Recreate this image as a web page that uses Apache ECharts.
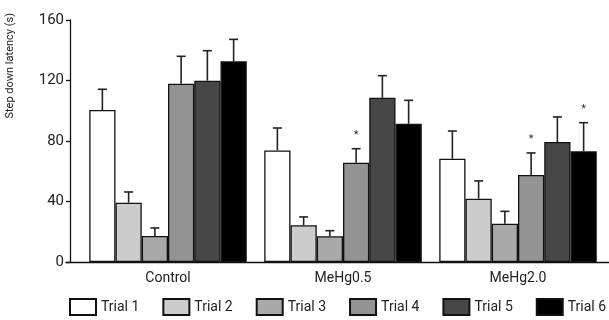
<!DOCTYPE html>
<html>
<head>
<meta charset="utf-8">
<script src="https://cdn.jsdelivr.net/npm/echarts@6/dist/echarts.min.js"></script>
<style>html,body{margin:0;padding:0;background:#fff;}#c{width:609px;height:320px;}</style>
</head>
<body>
<div id="c"></div>
<script>
var categories = ['Control', 'MeHg0.5', 'MeHg2.0'];
var trialNames = ['Trial 1', 'Trial 2', 'Trial 3', 'Trial 4', 'Trial 5', 'Trial 6'];
var trial1 = [100.5, 73.8, 68.3];
var trial2 = [39.2, 24.3, 41.9];
var trial3 = [17.2, 17.0, 25.3];
var trial4 = [117.9, 65.7, 57.5];
var trial5 = [119.9, 108.6, 79.3];
var trial6 = [132.7, 91.4, 73.2];
// error bar lengths (SEM)
var err1 = [13.7, 14.8, 18.3];
var err2 = [7.1, 5.5, 11.7];
var err3 = [5.3, 3.7, 8.2];
var err4 = [18.1, 9.2, 14.6];
var err5 = [19.8, 14.6, 16.6];
var err6 = [14.5, 15.5, 18.9];
// significance markers (1 = asterisk)
var sig1 = [0, 0, 0];
var sig2 = [0, 0, 0];
var sig3 = [0, 0, 0];
var sig4 = [0, 1, 1];
var sig5 = [0, 0, 0];
var sig6 = [0, 0, 1];
var yTicks = [0, 40, 80, 120, 160];

var means = [trial1, trial2, trial3, trial4, trial5, trial6];
var errs = [err1, err2, err3, err4, err5, err6];
var sigs = [sig1, sig2, sig3, sig4, sig5, sig6];
var colors = ['#ffffff', '#cccccc', '#a9a9a9', '#939393', '#474747', '#000000'];
var FONT = "Roboto, 'Liberation Sans', sans-serif";

var errData = [];
for (var s = 0; s < 6; s++) {
  for (var c = 0; c < categories.length; c++) {
    errData.push([c, means[s][c], errs[s][c], s, sigs[s][c]]);
  }
}

var series = [];
for (var s2 = 0; s2 < 6; s2++) {
  series.push({
    name: trialNames[s2],
    type: 'bar',
    data: means[s2],
    barGap: '0%',
    barCategoryGap: '10%',
    itemStyle: { color: colors[s2], borderColor: '#111', borderWidth: 1.3 },
    z: 2
  });
}
series.push({
  type: 'custom',
  data: errData,
  z: 3,
  silent: true,
  renderItem: function (params, api) {
    var cat = api.value(0), m = api.value(1), e = api.value(2), si = api.value(3), sg = api.value(4);
    var bw = api.size([1, 0])[0] * 0.9 / 6;
    var base = api.coord([cat, m]);
    var top = api.coord([cat, m + e]);
    var x = base[0] + (si - 2.5) * bw;
    var cap = 4.5;
    var children = [
      { type: 'line', shape: { x1: x, y1: base[1], x2: x, y2: top[1] }, style: { stroke: '#222', lineWidth: 1.6 } },
      { type: 'line', shape: { x1: x - cap, y1: top[1], x2: x + cap, y2: top[1] }, style: { stroke: '#222', lineWidth: 1.6 } }
    ];
    if (sg) {
      children.push({ type: 'text', style: { text: '*', x: x, y: top[1] - 8, align: 'center', verticalAlign: 'bottom', fill: '#333', font: '11px ' + FONT } });
    }
    return { type: 'group', children: children };
  }
});

var chart = echarts.init(document.getElementById('c'), null, { renderer: 'canvas' });
chart.setOption({
  animation: false,
  backgroundColor: '#fff',
  textStyle: { fontFamily: FONT },
  grid: [
    { left: 80.5, right: 3.5, top: 20, bottom: 58, outerBoundsMode: 'none', containLabel: false },
    { left: 66, right: 0, top: 20, bottom: 58, outerBoundsMode: 'none', containLabel: false }
  ],
  legend: {
    data: trialNames,
    left: 69,
    bottom: 4,
    width: 600,
    padding: 0,
    itemWidth: 26,
    itemHeight: 16,
    itemGap: 23,
    icon: 'rect',
    textStyle: { fontSize: 14, color: '#222', fontFamily: FONT }
  },
  xAxis: [
    {
      type: 'category', gridIndex: 0, data: categories,
      axisLine: { show: false },
      axisTick: { show: false },
      axisLabel: { fontSize: 14, color: '#222', margin: 9, fontFamily: FONT }
    },
    {
      type: 'value', gridIndex: 1, min: 0, max: 1,
      axisLine: { show: true, lineStyle: { color: '#111', width: 1.3 } },
      axisTick: { show: false }, axisLabel: { show: false }, splitLine: { show: false }
    }
  ],
  yAxis: [
    {
      type: 'value', gridIndex: 0, min: 0, max: 160, interval: 40,
      offset: 10.5,
      name: 'Step down latency (s)',
      nameLocation: 'end',
      nameRotate: 90,
      nameGap: 7,
      nameTextStyle: { fontSize: 11, color: '#222', fontFamily: FONT, align: 'right', verticalAlign: 'bottom', padding: [0, 0, 54, 0] },
      axisLine: { show: true, lineStyle: { color: '#111', width: 1.3 } },
      axisTick: { show: true, length: 4, lineStyle: { color: '#111', width: 1.3 } },
      axisLabel: { fontSize: 15, color: '#222', margin: 6, fontFamily: FONT,
        formatter: function (v) { return yTicks.indexOf(v) >= 0 ? String(v) : ''; } },
      splitLine: { show: false }
    },
    {
      type: 'value', gridIndex: 1, show: false
    }
  ],
  series: series
});
</script>
</body>
</html>
